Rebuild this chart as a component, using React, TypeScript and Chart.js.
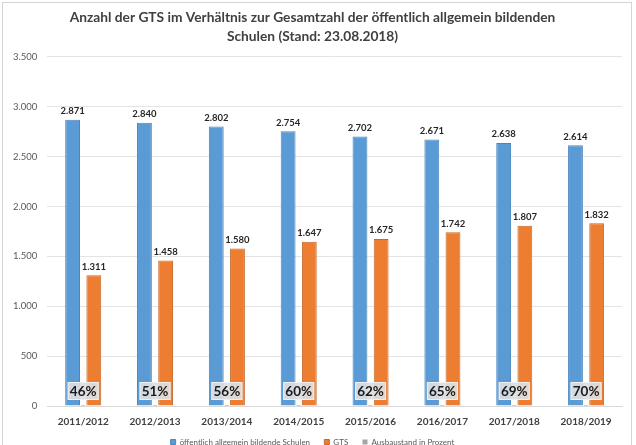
import { useEffect, useRef } from 'react';
import Chart from 'chart.js/auto';

const years = ['2011/2012', '2012/2013', '2013/2014', '2014/2015', '2015/2016', '2016/2017', '2017/2018', '2018/2019'];
const schools = [2871, 2840, 2802, 2754, 2702, 2671, 2638, 2614];
const gts = [1311, 1458, 1580, 1647, 1675, 1742, 1807, 1832];
const ausbau = [46, 51, 56, 60, 62, 65, 69, 70];

const FONT = 'Lato, "Liberation Sans", sans-serif';

// 2871 -> "2.871"
const fmt = (v: number) => String(Math.round(v)).replace(/\B(?=(\d{3})+(?!\d))/g, '.');

const labelPlugin = {
  id: 'barLabels',
  afterDatasetsDraw(chart: any) {
    const ctx = chart.ctx;
    const y0 = chart.scales.y.getPixelForValue(0);
    ctx.save();
    // values above blue + orange bars
    [0, 2].forEach((di) => {
      const meta = chart.getDatasetMeta(di);
      meta.data.forEach((bar: any, i: number) => {
        ctx.font = `bold 9.5px ${FONT}`;
        ctx.fillStyle = '#262626';
        ctx.textAlign = 'center';
        ctx.textBaseline = 'bottom';
        ctx.fillText(fmt(chart.data.datasets[di].data[i]), bar.x, bar.y - 4);
      });
    });
    // percentage boxes
    const meta = chart.getDatasetMeta(1);
    meta.data.forEach((bar: any, i: number) => {
      const w = 31;
      const h = 18;
      const cx = bar.x;
      const cy = y0 - 15;
      ctx.fillStyle = 'rgba(220,222,226,0.92)';
      ctx.fillRect(cx - w / 2, cy - h / 2, w, h);
      ctx.strokeStyle = '#f0f0f0';
      ctx.lineWidth = 1;
      ctx.strokeRect(cx - w / 2 + 0.5, cy - h / 2 + 0.5, w - 1, h - 1);
      ctx.font = `bold 13.5px ${FONT}`;
      ctx.fillStyle = '#1a1a1a';
      ctx.textAlign = 'center';
      ctx.textBaseline = 'middle';
      ctx.fillText(ausbau[i] + '%', cx, cy + 1);
    });
    ctx.restore();
  },
};

export default function App() {
  const canvasRef = useRef<HTMLCanvasElement>(null);
  const chartRef = useRef<Chart | null>(null);

  useEffect(() => {
    if (chartRef.current) {
      chartRef.current.destroy();
      chartRef.current = null;
    }
    const ctx = canvasRef.current?.getContext('2d');
    if (!ctx) return;

    chartRef.current = new Chart(ctx, {
      type: 'bar',
      data: {
        labels: years,
        datasets: [
          {
            label: 'öffentlich allgemein bildende Schulen',
            data: schools,
            backgroundColor: '#5b9bd5',
            borderColor: '#4a86bf',
            borderWidth: 1,
            categoryPercentage: 0.59,
            barPercentage: 0.7,
            order: 1,
          },
          {
            label: 'Ausbaustand in Prozent',
            data: ausbau.map((p) => p / 100),
            backgroundColor: '#a5a5a5',
            borderWidth: 0,
            grouped: false,
            categoryPercentage: 0.59,
            barPercentage: 0.1,
            order: 3,
          } as any,
          {
            label: 'GTS',
            data: gts,
            backgroundColor: '#ed7d31',
            borderColor: '#c8682a',
            borderWidth: 1,
            categoryPercentage: 0.59,
            barPercentage: 0.7,
            order: 2,
          },
        ],
      },
      options: {
        animation: false,
        responsive: true,
        maintainAspectRatio: false,
        layout: { padding: { left: 3, right: 14, top: 6, bottom: 0 } },
        plugins: {
          title: {
            display: true,
            text: [
              'Anzahl der GTS im Verhältnis zur Gesamtzahl der öffentlich allgemein bildenden',
              'Schulen (Stand: 23.08.2018)',
            ],
            color: '#404040',
            font: { family: FONT, size: 13.75, weight: 'bold', lineHeight: 1.38 },
            padding: { top: 2, bottom: 11 },
          },
          legend: {
            position: 'bottom',
            labels: {
              color: '#595959',
              font: { family: FONT, size: 8 },
              boxWidth: 5,
              boxHeight: 5,
              padding: 2,
              // legend order: blue, orange, gray; extra spaces give the gaps between entries
              generateLabels: (chart: any) => {
                const items = Chart.defaults.plugins.legend.labels.generateLabels(chart);
                const rank = [0, 2, 1];
                items.sort((a: any, b: any) => rank[a.datasetIndex] - rank[b.datasetIndex]);
                return items.map((it: any, k: number) => ({
                  ...it,
                  text: k < items.length - 1 ? it.text + '      ' : it.text,
                }));
              },
            },
          },
          tooltip: { enabled: false },
        },
        scales: {
          x: {
            grid: { display: false, drawTicks: false },
            border: { color: '#d9d9d9' },
            ticks: {
              color: '#404040',
              font: { family: FONT, size: 10, weight: 'bold' },
              padding: 10,
            },
            afterFit: (scale: any) => {
              scale.height = 30;
            },
          },
          y: {
            min: 0,
            max: 3500,
            ticks: {
              stepSize: 500,
              color: '#595959',
              font: { family: FONT, size: 9.5 },
              padding: 10,
              callback: (v: any) => fmt(Number(v)),
            },
            grid: { color: '#e4e4e4', drawTicks: false },
            border: { display: false },
          },
        },
      },
      plugins: [labelPlugin],
    });

    return () => {
      if (chartRef.current) {
        chartRef.current.destroy();
        chartRef.current = null;
      }
    };
  }, []);

  return (
    <div style={{ position: 'fixed', left: 0, top: 0, width: 636, height: 445, background: '#fff', overflow: 'hidden' }}>
      <div style={{ position: 'absolute', left: 2, top: 2, width: 628, height: 460, border: '1px solid #d4d4d4' }} />
      <div style={{ position: 'absolute', left: 0, top: 0, width: 636, height: 456 }}>
        <canvas ref={canvasRef}></canvas>
      </div>
    </div>
  );
}
